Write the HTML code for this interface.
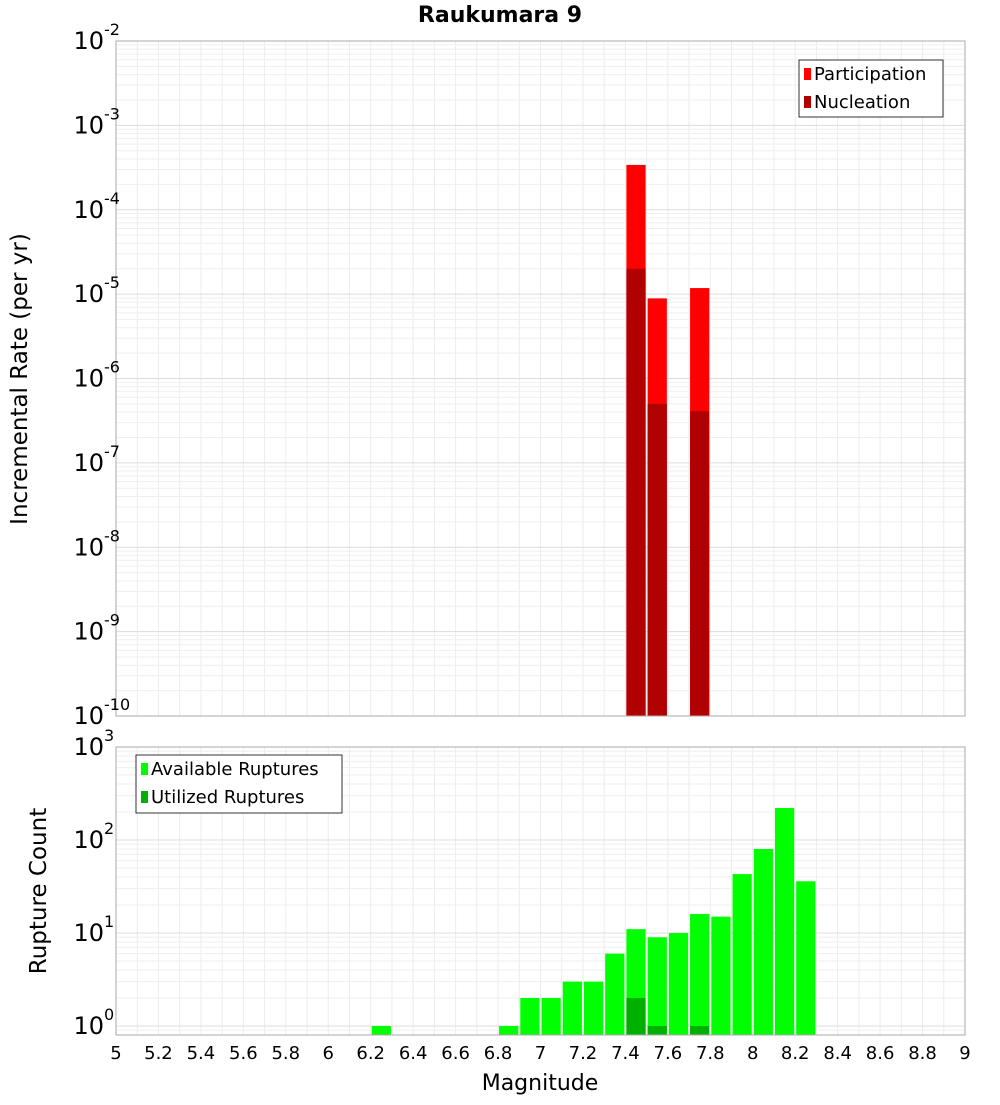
<!DOCTYPE html>
<html><head><meta charset="utf-8"><style>
body{margin:0;background:#fff;font-family:"Liberation Sans","DejaVu Sans",sans-serif}
svg text{font-family:"DejaVu Sans","Liberation Sans",sans-serif}
</style></head><body>
<svg id="c" width="1000" height="1100" xmlns="http://www.w3.org/2000/svg"></svg>
<script>
const topMags=[7.45,7.55,7.75];
const participation=[3.4e-4,8.9e-6,1.18e-5];
const nucleation=[2.0e-5,5.0e-7,4.1e-7];
const cntMags=[6.25,6.85,6.95,7.05,7.15,7.25,7.35,7.45,7.55,7.65,7.75,7.85,7.95,8.05,8.15,8.25];
const available=[1,1,2,2,3,3,6,11,9,10,16,15,43,80,221,36];
const utilMags=[7.45,7.55,7.75];
const utilized=[2,1,1];
const xTicks=[5,5.2,5.4,5.6,5.8,6,6.2,6.4,6.6,6.8,7,7.2,7.4,7.6,7.8,8,8.2,8.4,8.6,8.8,9];

const S=document.getElementById('c');const NS='http://www.w3.org/2000/svg';
function el(t,a,p){const e=document.createElementNS(NS,t);for(const k in a)e.setAttribute(k,a[k]);(p||S).appendChild(e);return e;}
const X0=116,X1=965;
const x=m=>X0+(m-5)/4*(X1-X0);
const T0=41,T1=716;
const yT=v=>T0+(-2-Math.log10(v))*(T1-T0)/8;
const B0=747,BD=93,B1=1035;
const yB=v=>B0+(3-Math.log10(v))*BD;

function grid(top,bot,yf,decs){
  for(let m=5;m<=9.001;m+=0.1){el('line',{x1:x(m),x2:x(m),y1:top,y2:bot,stroke:'#ececec','stroke-width':1});}
  decs.forEach(d=>{for(let k=1;k<10;k++){const yy=yf(k*Math.pow(10,d));if(yy>=top-0.5&&yy<=bot)el('line',{x1:X0,x2:X1,y1:yy,y2:yy,stroke:k==1?'#dcdcdc':'#efefef','stroke-width':1});}});
}
grid(T0,T1,yT,[-10,-9,-8,-7,-6,-5,-4,-3,-2]);
grid(B0,B1,yB,[-1,0,1,2,3]);

const bw=0.1*(X1-X0)/4-2;
topMags.forEach((m,i)=>{
  const r=el('rect',{x:x(m)-bw/2,y:yT(participation[i]),width:bw,height:T1-yT(participation[i]),fill:'#ff0000'});
  
  
  const n=el('rect',{x:x(m)-bw/2,y:yT(nucleation[i]),width:bw,height:T1-yT(nucleation[i]),fill:'#b00000'});
  
  
});
cntMags.forEach((m,i)=>{
  const r=el('rect',{x:x(m)-bw/2,y:yB(available[i]),width:bw,height:B1-yB(available[i]),fill:'#00ff00'});
  
  
});
utilMags.forEach((m,i)=>{
  const r=el('rect',{x:x(m)-bw/2,y:yB(utilized[i]),width:bw,height:B1-yB(utilized[i]),fill:'#00b000'});
  
  
});
el('rect',{x:X0,y:T0,width:X1-X0,height:T1-T0,fill:'none',stroke:'#aaa'});
el('rect',{x:X0,y:B0,width:X1-X0,height:B1-B0,fill:'none',stroke:'#aaa'});

function ylab(yy,e){const t=el('text',{x:104,y:yy+8,'text-anchor':'end','font-size':24});t.textContent='10';
  
  const s=el('text',{x:104,y:yy-6,'font-size':16});s.textContent=e;
  }
for(let d=-2;d>=-10;d--)ylab(yT(Math.pow(10,d)),String(d));
for(let d=3;d>=0;d--)ylab(yB(Math.pow(10,d)),String(d));

xTicks.forEach(v=>{const t=el('text',{x:x(v),y:1059,'text-anchor':'middle','font-size':18});t.textContent=String(v);
  });

const title=el('text',{x:500,y:22,'text-anchor':'middle','font-size':22,'font-weight':'bold'});title.textContent='Raukumara 9';

const xt=el('text',{x:540,y:1090,'text-anchor':'middle','font-size':22});xt.textContent='Magnitude';

const yt1=el('text',{x:0,y:0,'text-anchor':'middle','font-size':23,transform:'translate(27,379) rotate(-90)'});yt1.textContent='Incremental Rate (per yr)';

const yt2=el('text',{x:0,y:0,'text-anchor':'middle','font-size':23,transform:'translate(46,891) rotate(-90)'});yt2.textContent='Rupture Count';


function legend(bx,by,w,h,items){
  const g=el('g',{});
  el('rect',{x:bx,y:by,width:w,height:h,fill:'#fff',stroke:'#333'},g);
  items.forEach((it,i)=>{el('rect',{x:bx+5,y:by+8+i*28,width:7,height:12,fill:it[1]},g);
    const t=el('text',{x:bx+15,y:by+20+i*28,'font-size':18},g);t.textContent=it[0];});
}
legend(799,60,144,57,[['Participation','#ff0000'],['Nucleation','#b00000']]);
legend(136,755,206,58,[['Available Ruptures','#00ff00'],['Utilized Ruptures','#00b000']]);
</script>
</body></html>
